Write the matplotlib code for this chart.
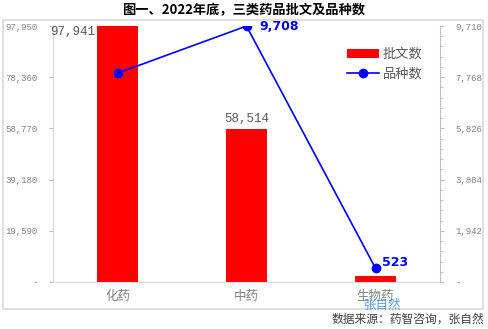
import matplotlib
matplotlib.use("Agg")
from matplotlib import pyplot as plt
from matplotlib.patches import Rectangle

plt.rcParams['font.family'] = ['Noto Sans CJK SC', 'DejaVu Sans']

# data
categories = ["化药", "中药", "生物药"]
approvals = [97941, 58514, 2300]
varieties = [7920, 9708, 523]
left_ticks = [0, 19590, 39180, 58770, 78360, 97950]
right_ticks = [0, 1942, 3884, 5826, 7768, 9710]

TITLE = "图一、2022年底，三类药品批文及品种数"
SOURCE = "数据来源：药智咨询，张自然"

fig = plt.figure(figsize=(4.88, 3.29), dpi=100)
fig.patches.append(Rectangle((3 / 488, 1 - 309 / 329), 480 / 488, 289 / 329,
                             transform=fig.transFigure, fill=False,
                             edgecolor='#d9d9d9', linewidth=1.2))

ax = fig.add_axes([53 / 488, 1 - 282 / 329, 387 / 488, 256 / 329])
ax2 = ax.twinx()

x = list(range(len(categories)))
ax.bar(x, approvals, width=0.32, color='#ff0000', label='批文数', zorder=2)
ax2.plot(x, varieties, color='#0000ff', marker='o', markersize=6, linewidth=1.2,
         label='品种数', zorder=3)

ax.set_xlim(-0.5, 2.5)
ax.set_ylim(0, left_ticks[-1])
ax2.set_ylim(0, right_ticks[-1])

grey = '#808080'
ax.set_yticks(left_ticks)
ax.set_yticklabels(['-'] + ['{:,}'.format(v) for v in left_ticks[1:]],
                   fontsize=6.5, color=grey, family='Liberation Mono')
ax2.set_yticks(right_ticks)
ax2.set_yticklabels(['-'] + ['{:,}'.format(v) for v in right_ticks[1:]],
                    fontsize=6.5, color=grey, family='Liberation Mono')
ax2.set_yticks([right_ticks[-1] * i / 25 for i in range(26)], minor=True)
ax2.tick_params(axis='y', which='minor', length=2, color='#bfbfbf')
ax.tick_params(axis='y', length=3, color='#bfbfbf', pad=8)
ax2.tick_params(axis='y', which='major', length=3, color='#bfbfbf', pad=8)

ax.set_xticks(x)
ax.set_xticklabels(categories, fontsize=9, color=grey)
ax.tick_params(axis='x', length=0, pad=6)

for a in (ax, ax2):
    a.spines['top'].set_visible(False)
    a.spines['right'].set_visible(False)
    for s in ('left', 'bottom'):
        a.spines[s].set_color('#d9d9d9')
ax2.spines['right'].set_visible(True)
ax2.spines['right'].set_color('#bfbfbf')
ax2.spines['left'].set_visible(False)
ax2.spines['bottom'].set_visible(False)

# bar labels
ax.text(x[0] - 0.17, approvals[0], '{:,}'.format(approvals[0]), ha='right', va='top',
        fontsize=9, color='#595959', family='Liberation Mono')
ax.text(x[1], approvals[1] + 1500, '{:,}'.format(approvals[1]), ha='center', va='bottom',
        fontsize=9, color='#595959', family='Liberation Mono')

# line labels
ax2.text(x[1] + 0.1, varieties[1], '{:,}'.format(varieties[1]), ha='left', va='center',
         fontsize=9, color='#0000ff', fontweight='bold', family='DejaVu Sans')
ax2.text(x[2] + 0.05, varieties[2] + 200, '{:,}'.format(varieties[2]), ha='left', va='center',
         fontsize=9, color='#0000ff', fontweight='bold', family='DejaVu Sans')

h1, l1 = ax.get_legend_handles_labels()
h2, l2 = ax2.get_legend_handles_labels()
ax2.legend(h1 + h2, l1 + l2, loc='upper left', bbox_to_anchor=(0.73, 0.96),
           frameon=False, fontsize=9.5, labelcolor='#595959', handlelength=2.4,
           handletextpad=0.3, labelspacing=0.5)

fig.text(0.5, 1 - 10 / 329, TITLE, ha='center', va='center', fontsize=9.5,
         fontweight='bold', color='#000000')
fig.text(383 / 488, 1 - 305 / 329, '张自然', ha='center', va='center', fontsize=9,
         color='#3c8dd4', alpha=0.85)
fig.text(484 / 488, 1 - 319 / 329, SOURCE, ha='right', va='center', fontsize=8.5,
         color='#404040')

fig.savefig('out.png', dpi=100)
